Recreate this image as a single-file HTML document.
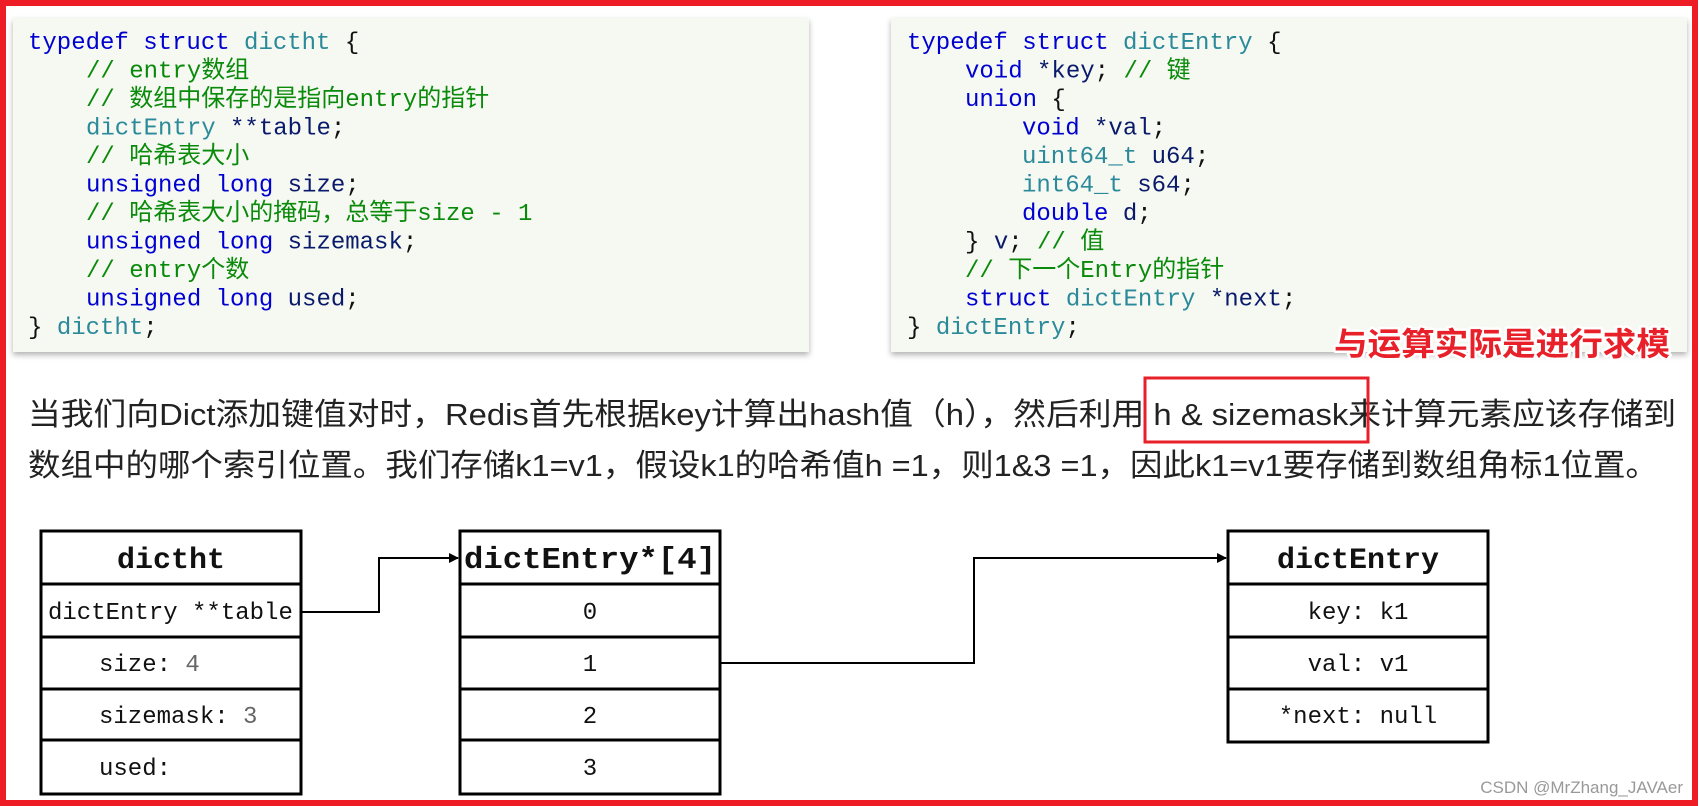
<!DOCTYPE html>
<html><head><meta charset="utf-8"><style>
html,body{margin:0;padding:0;background:#fff;}
svg{display:block}
.code{font-family:"Liberation Mono","Noto Sans CJK SC",monospace;font-size:24px;}
.kw{fill:#0000d0}.ty{fill:#2b8a9a}.cm{fill:#0a8a0a}.id{fill:#0a1a6a}.pl{fill:#111}
.mono{font-family:"Liberation Mono","Noto Sans CJK SC",monospace;}
.para{font-family:"Liberation Sans","Noto Sans CJK SC",sans-serif;font-size:31px;fill:#222;}
</style></head><body>
<svg width="1700" height="806" viewBox="0 0 1700 806" xmlns="http://www.w3.org/2000/svg">
<defs>
<filter id="sh" x="-5%" y="-5%" width="110%" height="115%">
<feDropShadow dx="0" dy="3" stdDeviation="3" flood-color="#000" flood-opacity="0.3"/>
</filter>
<marker id="ar" markerWidth="10" markerHeight="10" refX="9" refY="5" orient="auto" markerUnits="userSpaceOnUse">
<path d="M0,0 L10,5 L0,10 z" fill="#000"/>
</marker>
</defs>
<rect x="0" y="0" width="1700" height="806" fill="#fff"/>
<rect x="13" y="18" width="796" height="334" fill="#f6f8f2" filter="url(#sh)"/>
<rect x="891" y="18" width="796" height="334" fill="#f6f8f2" filter="url(#sh)"/>
<text class="code" xml:space="preserve">
<tspan x="28" y="49"><tspan class="kw">typedef struct</tspan> <tspan class="ty">dictht</tspan> <tspan class="pl">{</tspan></tspan>
<tspan x="86" y="77.5" class="cm">// entry数组</tspan>
<tspan x="86" y="106" class="cm">// 数组中保存的是指向entry的指针</tspan>
<tspan x="86" y="134.5"><tspan class="ty">dictEntry</tspan> <tspan class="id">**table</tspan><tspan class="pl">;</tspan></tspan>
<tspan x="86" y="163" class="cm">// 哈希表大小</tspan>
<tspan x="86" y="191.5"><tspan class="kw">unsigned long</tspan> <tspan class="id">size</tspan><tspan class="pl">;</tspan></tspan>
<tspan x="86" y="220" class="cm">// 哈希表大小的掩码，总等于size - 1</tspan>
<tspan x="86" y="248.5"><tspan class="kw">unsigned long</tspan> <tspan class="id">sizemask</tspan><tspan class="pl">;</tspan></tspan>
<tspan x="86" y="277" class="cm">// entry个数</tspan>
<tspan x="86" y="305.5"><tspan class="kw">unsigned long</tspan> <tspan class="id">used</tspan><tspan class="pl">;</tspan></tspan>
<tspan x="28" y="334"><tspan class="pl">}</tspan> <tspan class="ty">dictht</tspan><tspan class="pl">;</tspan></tspan>
</text>
<text class="code" xml:space="preserve">
<tspan x="907" y="49"><tspan class="kw">typedef struct</tspan> <tspan class="ty">dictEntry</tspan> <tspan class="pl">{</tspan></tspan>
<tspan x="965" y="77.5"><tspan class="kw">void</tspan> <tspan class="id">*key</tspan><tspan class="pl">;</tspan> <tspan class="cm">// 键</tspan></tspan>
<tspan x="965" y="106"><tspan class="kw">union</tspan> <tspan class="pl">{</tspan></tspan>
<tspan x="1022" y="134.5"><tspan class="kw">void</tspan> <tspan class="id">*val</tspan><tspan class="pl">;</tspan></tspan>
<tspan x="1022" y="163"><tspan class="ty">uint64_t</tspan> <tspan class="id">u64</tspan><tspan class="pl">;</tspan></tspan>
<tspan x="1022" y="191.5"><tspan class="ty">int64_t</tspan> <tspan class="id">s64</tspan><tspan class="pl">;</tspan></tspan>
<tspan x="1022" y="220"><tspan class="kw">double</tspan> <tspan class="id">d</tspan><tspan class="pl">;</tspan></tspan>
<tspan x="965" y="248.5"><tspan class="pl">}</tspan> <tspan class="id">v</tspan><tspan class="pl">;</tspan> <tspan class="cm">// 值</tspan></tspan>
<tspan x="965" y="277" class="cm">// 下一个Entry的指针</tspan>
<tspan x="965" y="305.5"><tspan class="kw">struct</tspan> <tspan class="ty">dictEntry</tspan> <tspan class="id">*next</tspan><tspan class="pl">;</tspan></tspan>
<tspan x="907" y="334"><tspan class="pl">}</tspan> <tspan class="ty">dictEntry</tspan><tspan class="pl">;</tspan></tspan>
</text>
<text x="1334" y="355" textLength="336" lengthAdjust="spacingAndGlyphs" font-family="'Liberation Sans','Noto Sans CJK SC',sans-serif" font-size="32" font-weight="bold" fill="#e8202a" stroke="#fff" stroke-width="5" paint-order="stroke" stroke-linejoin="round">与运算实际是进行求模</text>
<text class="para" x="28" y="425" textLength="1648" lengthAdjust="spacingAndGlyphs">当我们向Dict添加键值对时，Redis首先根据key计算出hash值（h），然后利用 h &amp; sizemask来计算元素应该存储到</text>
<text class="para" x="28" y="476" textLength="1630" lengthAdjust="spacingAndGlyphs">数组中的哪个索引位置。我们存储k1=v1，假设k1的哈希值h  =1，则1&amp;3  =1，因此k1=v1要存储到数组角标1位置。</text>
<rect x="1145" y="378" width="223" height="64" fill="none" stroke="#e8202a" stroke-width="3"/>
<g fill="none" stroke="#000" stroke-width="3">
<rect x="41" y="531" width="260" height="263"/>
<line x1="41" y1="584" x2="301" y2="584"/>
<line x1="41" y1="637" x2="301" y2="637"/>
<line x1="41" y1="689" x2="301" y2="689"/>
<line x1="41" y1="740" x2="301" y2="740"/>
<rect x="460" y="531" width="260" height="263"/>
<line x1="460" y1="584" x2="720" y2="584"/>
<line x1="460" y1="637" x2="720" y2="637"/>
<line x1="460" y1="689" x2="720" y2="689"/>
<line x1="460" y1="740" x2="720" y2="740"/>
<rect x="1228" y="531" width="260" height="211"/>
<line x1="1228" y1="584" x2="1488" y2="584"/>
<line x1="1228" y1="637" x2="1488" y2="637"/>
<line x1="1228" y1="689" x2="1488" y2="689"/>
</g>
<g class="mono" font-size="24" fill="#111">
<text x="171" y="568" text-anchor="middle" font-weight="bold" font-size="30">dictht</text>
<text x="48" y="619">dictEntry **table</text>
<text x="99" y="671">size: <tspan fill="#666">4</tspan></text>
<text x="99" y="723">sizemask: <tspan fill="#666">3</tspan></text>
<text x="99" y="775">used:</text>
<text x="590" y="568" text-anchor="middle" font-weight="bold" font-size="31" textLength="252" lengthAdjust="spacingAndGlyphs">dictEntry*[4]</text>
<text x="590" y="619" text-anchor="middle">0</text>
<text x="590" y="671" text-anchor="middle">1</text>
<text x="590" y="723" text-anchor="middle">2</text>
<text x="590" y="775" text-anchor="middle">3</text>
<text x="1358" y="568" text-anchor="middle" font-weight="bold" font-size="30">dictEntry</text>
<text x="1358" y="619" text-anchor="middle">key: k1</text>
<text x="1358" y="671" text-anchor="middle">val: v1</text>
<text x="1358" y="723" text-anchor="middle">*next: null</text>
</g>
<polyline points="301,612 379,612 379,558 458,558" fill="none" stroke="#000" stroke-width="2" marker-end="url(#ar)"/>
<polyline points="720,663 974,663 974,558 1226,558" fill="none" stroke="#000" stroke-width="2" marker-end="url(#ar)"/>
<text x="1683" y="793" text-anchor="end" font-family="'Liberation Sans',sans-serif" font-size="17" fill="#999">CSDN @MrZhang_JAVAer</text>
<rect x="3" y="3" width="1692" height="800" fill="none" stroke="#ee1c25" stroke-width="6"/>
</svg>
</body></html>
